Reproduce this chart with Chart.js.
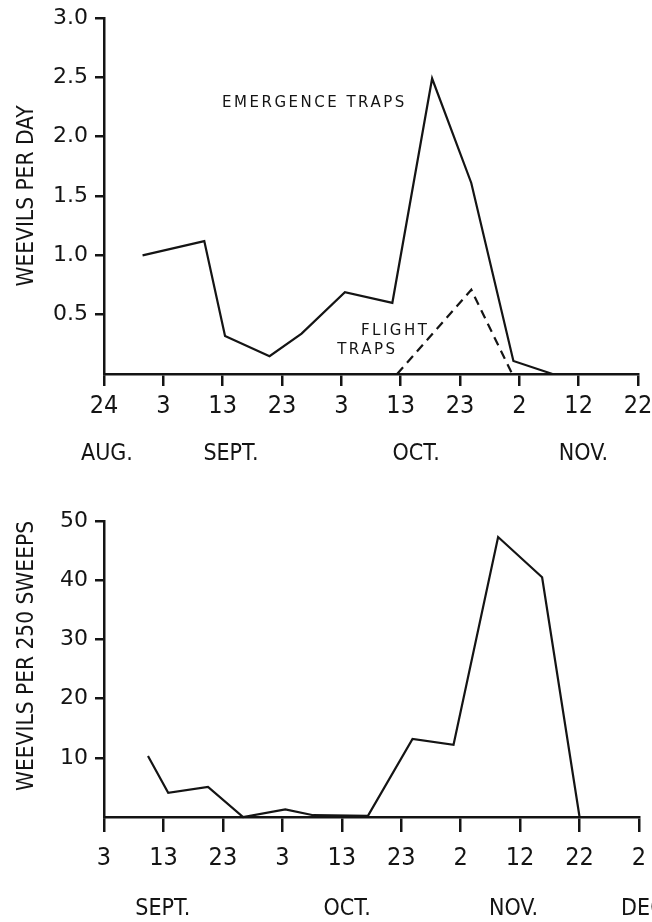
<!DOCTYPE html>
<html><head><meta charset="utf-8">
<script src="https://cdn.jsdelivr.net/npm/chart.js@4.4.1/dist/chart.umd.min.js"></script>
<style>
html,body{margin:0;padding:0;background:#fff;}
#c1{position:absolute;left:0;top:0;}
#c2{position:absolute;left:0;top:480px;}
</style>
</head><body>
<canvas id="c1" width="652" height="480"></canvas>
<canvas id="c2" width="652" height="442"></canvas>
<script>
// ---------- DATA: top panel (x = days after Aug. 24) ----------
const emergenceDays   = [6.5, 16.9, 20.4, 27.9, 33.3, 40.6, 48.6, 55.3, 61.9, 69.0, 75.6];
const emergenceValues = [1.00, 1.12, 0.32, 0.15, 0.34, 0.69, 0.60, 2.49, 1.61, 0.11, 0.00];
const flightDays      = [49.4, 61.9, 68.8];
const flightValues    = [0.00, 0.71, 0.00];
const topDayTickValues  = [0, 10, 20, 30, 40, 50, 60, 70, 80, 90];
const topDayTickLabels  = ['24', '3', '13', '23', '3', '13', '23', '2', '12', '22'];
const topMonthLabels    = ['AUG.', 'SEPT.', 'OCT.', 'NOV.'];
const topMonthDays      = [0.5, 21.4, 52.6, 80.8];
const topYTickValues    = [0.5, 1.0, 1.5, 2.0, 2.5, 3.0];
const topYTickLabels    = ['0.5', '1.0', '1.5', '2.0', '2.5', '3.0'];
const topYTitle         = 'WEEVILS PER DAY';
const topNoteTexts      = ['EMERGENCE TRAPS', 'FLIGHT', 'TRAPS'];
const topNoteDays       = [19.9, 43.3, 39.3];
const topNoteValues     = [2.28, 0.36, 0.20];

// ---------- DATA: bottom panel (x = days after Sept. 3) ----------
const sweepDays   = [7.4, 10.8, 17.5, 23.4, 30.5, 35.2, 44.4, 51.9, 58.8, 66.3, 73.7, 80.0];
const sweepValues = [10.3, 4.1, 5.1, 0.0, 1.3, 0.3, 0.2, 13.2, 12.2, 47.3, 40.5, 0.0];
const botDayTickValues = [0, 10, 20, 30, 40, 50, 60, 70, 80, 90];
const botDayTickLabels = ['3', '13', '23', '3', '13', '23', '2', '12', '22', '2'];
const botMonthLabels   = ['SEPT.', 'OCT.', 'NOV.', 'DEC.'];
const botMonthDays     = [9.9, 40.9, 68.9, 91.2];
const botYTickValues   = [10, 20, 30, 40, 50];
const botYTickLabels   = ['10', '20', '30', '40', '50'];
const botYTitle        = 'WEEVILS PER 250 SWEEPS';

// ---------- STYLE ----------
const INK = '#141414';
const FONT_N = '"Liberation Sans Narrow", "DejaVu Sans Condensed", "Liberation Sans", sans-serif';
const FONT_Y = '"DejaVu Sans", sans-serif';

function pts(xs, ys) { return xs.map((x, i) => ({ x: x, y: ys[i] })); }

function notePlugin(texts, xs, ys) {
  return {
    id: 'notes',
    afterDatasetsDraw(chart) {
      const ctx = chart.ctx, sx = chart.scales.x, sy = chart.scales.y;
      ctx.save();
      ctx.fillStyle = INK;
      ctx.font = '15px "DejaVu Sans", sans-serif';
      try { ctx.letterSpacing = '2.5px'; } catch (e) {}
      ctx.textAlign = 'left';
      ctx.textBaseline = 'middle';
      texts.forEach((t, i) => ctx.fillText(t, sx.getPixelForValue(xs[i]), sy.getPixelForValue(ys[i])));
      ctx.restore();
    }
  };
}

function makePanel(id, c) {
  return new Chart(document.getElementById(id), {
    type: 'line',
    data: { datasets: c.datasets },
    options: {
      responsive: false, animation: false, devicePixelRatio: 1,
      layout: { padding: c.padding },
      plugins: { legend: { display: false }, tooltip: { enabled: false } },
      elements: { point: { radius: 0 }, line: { tension: 0 } },
      scales: {
        x: {
          type: 'linear', position: 'bottom', weight: 1, min: 0, max: 90,
          afterBuildTicks: s => { s.ticks = c.dayTickValues.map(v => ({ value: v })); },
          afterFit: s => { s.height = 60; s.paddingLeft = 0; s.paddingRight = 0; },
          grid: { display: true, drawOnChartArea: false, drawTicks: true, tickLength: c.xTickLen, color: INK, lineWidth: 2.5 },
          border: { display: true, color: INK, width: 2.5 },
          ticks: { autoSkip: false, maxRotation: 0, minRotation: 0, padding: c.xTickPad, color: INK,
                   font: { family: FONT_N, size: 25, lineHeight: 1 },
                   callback: (v, i) => c.dayTickLabels[i] }
        },
        m: {
          type: 'linear', axis: 'x', position: 'bottom', weight: 2, min: 0, max: 90,
          afterBuildTicks: s => { s.ticks = c.monthDays.map(v => ({ value: v })); },
          afterFit: s => { s.height = c.monthHeight; s.paddingLeft = 0; s.paddingRight = 0; },
          grid: { display: false }, border: { display: false },
          ticks: { autoSkip: false, maxRotation: 0, minRotation: 0, padding: c.monthPad, color: INK,
                   font: { family: FONT_N, size: 23, lineHeight: 1 },
                   callback: (v, i) => c.monthLabels[i] }
        },
        y: {
          type: 'linear', position: 'left', min: 0, max: c.yMax,
          afterBuildTicks: s => { s.ticks = c.yTickValues.map(v => ({ value: v })); },
          afterFit: s => { s.width = 104; s.paddingTop = 0; s.paddingBottom = 0; },
          grid: { display: true, drawOnChartArea: false, drawTicks: true, tickLength: 9, color: INK, lineWidth: 2.5 },
          border: { display: true, color: INK, width: 2.5 },
          ticks: { padding: 7, color: INK, font: { family: FONT_Y, size: 22, lineHeight: 1 },
                   callback: (v, i) => c.yTickLabels[i] },
          title: { display: true, text: c.yTitle, align: c.titleAlign, color: INK,
                   font: { family: FONT_N, size: 22.5, lineHeight: 1 }, padding: { top: 16, bottom: 0 } }
        }
      }
    },
    plugins: c.plugins || []
  });
}

makePanel('c1', {
  datasets: [
    { data: pts(emergenceDays, emergenceValues), borderColor: INK, borderWidth: 2.2, fill: false, clip: false },
    { data: pts(flightDays, flightValues), borderColor: INK, borderWidth: 2.2, borderDash: [9, 6], fill: false, clip: false }
  ],
  padding: { top: 18, right: 14, left: 0, bottom: 0 },
  dayTickValues: topDayTickValues, dayTickLabels: topDayTickLabels,
  monthDays: topMonthDays, monthLabels: topMonthLabels,
  yTickValues: topYTickValues, yTickLabels: topYTickLabels, yMax: 3.0,
  yTitle: topYTitle, titleAlign: 'center',
  xTickLen: 12, xTickPad: 8, monthHeight: 46, monthPad: 1,
  plugins: [notePlugin(topNoteTexts, topNoteDays, topNoteValues)]
});

makePanel('c2', {
  datasets: [
    { data: pts(sweepDays, sweepValues), borderColor: INK, borderWidth: 2.2, fill: false, clip: false }
  ],
  padding: { top: 41, right: 13, left: 0, bottom: 0 },
  dayTickValues: botDayTickValues, dayTickLabels: botDayTickLabels,
  monthDays: botMonthDays, monthLabels: botMonthLabels,
  yTickValues: botYTickValues, yTickLabels: botYTickLabels, yMax: 50,
  yTitle: botYTitle, titleAlign: 'end',
  xTickLen: 15, xTickPad: 14, monthHeight: 45, monthPad: 13
});
</script>
</body></html>
